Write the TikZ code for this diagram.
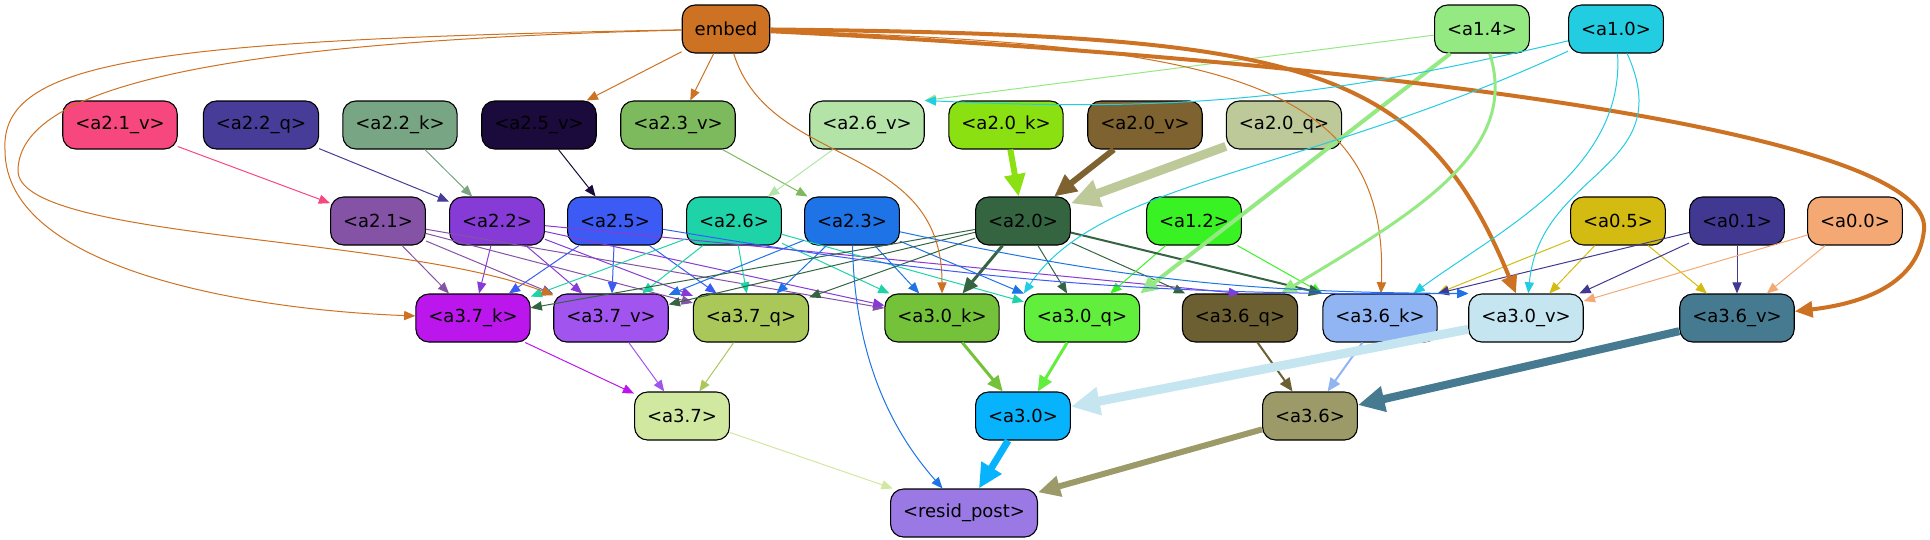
\documentclass[tikz,border=0pt]{standalone}
\usepackage{fontspec}
\setmainfont{DejaVu Sans}
\usetikzlibrary{arrows.meta}

\definecolor{colembed}{HTML}{CC7222}
\definecolor{cola14}{HTML}{94E983}
\definecolor{cola10}{HTML}{22CCE1}
\definecolor{cola21v}{HTML}{F7477F}
\definecolor{cola22q}{HTML}{483C99}
\definecolor{cola22k}{HTML}{78A583}
\definecolor{cola25v}{HTML}{1B0B3C}
\definecolor{cola23v}{HTML}{7DBA5E}
\definecolor{cola26v}{HTML}{B3E3A7}
\definecolor{cola20k}{HTML}{8BE012}
\definecolor{cola20v}{HTML}{7E6230}
\definecolor{cola20q}{HTML}{BEC999}
\definecolor{cola21}{HTML}{8553A5}
\definecolor{cola22}{HTML}{873BD6}
\definecolor{cola25}{HTML}{3C5BF4}
\definecolor{cola26}{HTML}{1FD3A8}
\definecolor{cola23}{HTML}{1E74E6}
\definecolor{cola20}{HTML}{356441}
\definecolor{cola12}{HTML}{39F223}
\definecolor{cola05}{HTML}{D3BB11}
\definecolor{cola01}{HTML}{413891}
\definecolor{cola00}{HTML}{F4A873}
\definecolor{cola37k}{HTML}{BB16EB}
\definecolor{cola37v}{HTML}{A254EE}
\definecolor{cola37q}{HTML}{AAC85A}
\definecolor{cola30k}{HTML}{73C23A}
\definecolor{cola30q}{HTML}{62EE3D}
\definecolor{cola36q}{HTML}{6C5F32}
\definecolor{cola36k}{HTML}{90B5F2}
\definecolor{cola30v}{HTML}{C5E5F0}
\definecolor{cola36v}{HTML}{467A90}
\definecolor{cola37}{HTML}{D1E8A1}
\definecolor{cola30}{HTML}{08B3FD}
\definecolor{cola36}{HTML}{9D9A69}
\definecolor{colresid}{HTML}{9A79E5}

\tikzset{
  box/.style={draw=black, line width=1.1pt, rounded corners=13pt,
    minimum height=48pt, inner xsep=12.5pt, inner ysep=0pt,
    font=\fontsize{18pt}{22pt}\selectfont},
  link/.style={-{Triangle[length=9pt 2.2,width=7pt 2.2]}, line width=1pt},
}

\begin{document}
\begin{tikzpicture}[x=1pt, y=-1pt]
\useasboundingbox (0,0) rectangle (1930,539);
\foreach \n/\x/\y/\lbl in {
  embed/726/29/embed, a14/1482/29/<a1.4>, a10/1616/29/<a1.0>,
  a21v/120/125/<a2.1\_v>, a22q/261/125/<a2.2\_q>, a22k/400/125/<a2.2\_k>,
  a25v/539/125/<a2.5\_v>, a23v/678/125/<a2.3\_v>, a26v/867/125/<a2.6\_v>,
  a20k/1006/125/<a2.0\_k>, a20v/1145/125/<a2.0\_v>, a20q/1284/125/<a2.0\_q>,
  a21/378/221/<a2.1>, a22/497/221/<a2.2>, a25/615/221/<a2.5>,
  a26/734/221/<a2.6>, a23/852/221/<a2.3>, a20/1023/221/<a2.0>,
  a12/1194/221/<a1.2>, a05/1618/221/<a0.5>, a01/1737/221/<a0.1>,
  a00/1855/221/<a0.0>,
  a37k/473/318/<a3.7\_k>, a37v/611/318/<a3.7\_v>, a37q/751/318/<a3.7\_q>,
  a30k/942/318/<a3.0\_k>, a30q/1082/318/<a3.0\_q>, a36q/1240/318/<a3.6\_q>,
  a36k/1380/318/<a3.6\_k>, a30v/1526/318/<a3.0\_v>, a36v/1737/318/<a3.6\_v>,
  a37/682/416/<a3.7>, a30/1023/416/<a3.0>, a36/1310/416/<a3.6>,
  resid/964/513/<resid\_post>}
  \node[box, fill=col\n] (\n) at (\x,\y) {\lbl};

\foreach \u/\v in {embed/a25v, embed/a23v, a21v/a21, a22q/a22, a22k/a22,
  a25v/a25, a23v/a23, a26v/a26, a14/a26v.north east} \draw[link, draw=col\u] (\u) -- (\v);
\foreach \u/\v in {a21/a37k, a21/a37v, a21/a37q, a21/a30k, a22/a37k, a22/a37v,
  a22/a37q, a22/a30k, a22/a36q.north, a25/a37k, a25/a37v, a25/a37q} \draw[link, draw=col\u] (\u) -- (\v);
\foreach \u/\v in {a26/a37k, a26/a37v, a26/a37q, a26/a30k, a26/a30q, a23/a37v,
  a23/a37q, a23/a30k, a23/a30q, a20/a37k, a20/a37v, a20/a37q} \draw[link, draw=col\u] (\u) -- (\v);
\foreach \u/\v in {a20/a30q, a20/a36q, a12/a30q, a12/a36k.north west, a05/a36k.north east,
  a05/a30v, a05/a36v, a01/a36k.north east, a01/a30v, a01/a36v, a00/a30v, a00/a36v} \draw[link, draw=col\u] (\u) -- (\v);
\foreach \u/\v in {a37k/a37, a37v/a37, a37q/a37, a37/resid} \draw[link, draw=col\u] (\u) -- (\v);

% heavier links
\foreach \u/\v/\w in {a20/a36k.north west/2, a36q/a36/2, a36k/a36/2, a20/a30k/3,
  a30k/a30/3, a30q/a30/3, a14/a30q.north east/4, a20k/a20/6, a20v/a20/6,
  a20q/a20/9, a30v/a30/9, a36v/a36/8, a30/resid/7, a36/resid/6}
  \draw[link, line width=\w pt, draw=col\u] (\u) -- (\v);

% curved links
\draw[link, draw=colembed] (embed) .. controls (150,40) and (0,60) .. (5,150)
  .. controls (5,270) and (250,310) .. (a37k);
\draw[link, draw=colembed] (embed) .. controls (200,42) and (20,90) .. (18,170)
  .. controls (16,240) and (400,235) .. (a37v);
\draw[link, draw=colembed] (embed) .. controls (770,170) and (942,140) .. (a30k);
\draw[link, draw=colembed] (embed) .. controls (1200,45) and (1390,70) .. (a36k);
\draw[link, line width=4pt, draw=colembed] (embed) .. controls (1300,35) and (1420,60) .. (a30v);
\draw[link, line width=4pt, draw=colembed] (embed) .. controls (1350,60) and (1935,130) .. (1924,230)
  .. controls (1918,290) and (1850,305) .. (a36v);
\draw[link, draw=cola10] (a10) to[bend left=8] (a26v.north east);
\draw[link, draw=cola10] (a10) .. controls (1300,175) and (1100,180) .. (a30q.north west);
\draw[link, draw=cola10] (a10) .. controls (1625,170) and (1500,230) .. (a36k);
\draw[link, draw=cola10] (a10) .. controls (1680,170) and (1540,170) .. (a30v);
\draw[link, line width=3pt, draw=cola14] (a14) .. controls (1520,150) and (1420,210) .. (a36q);
\draw[link, draw=cola23] (a23) .. controls (855,370) and (900,440) .. (resid);
\draw[link, draw=cola25] (a25) to[bend right=5] (a30v.north west);
\draw[link, draw=cola23] (a23) to[bend right=6] (a30v.north west);
\end{tikzpicture}
\end{document}
